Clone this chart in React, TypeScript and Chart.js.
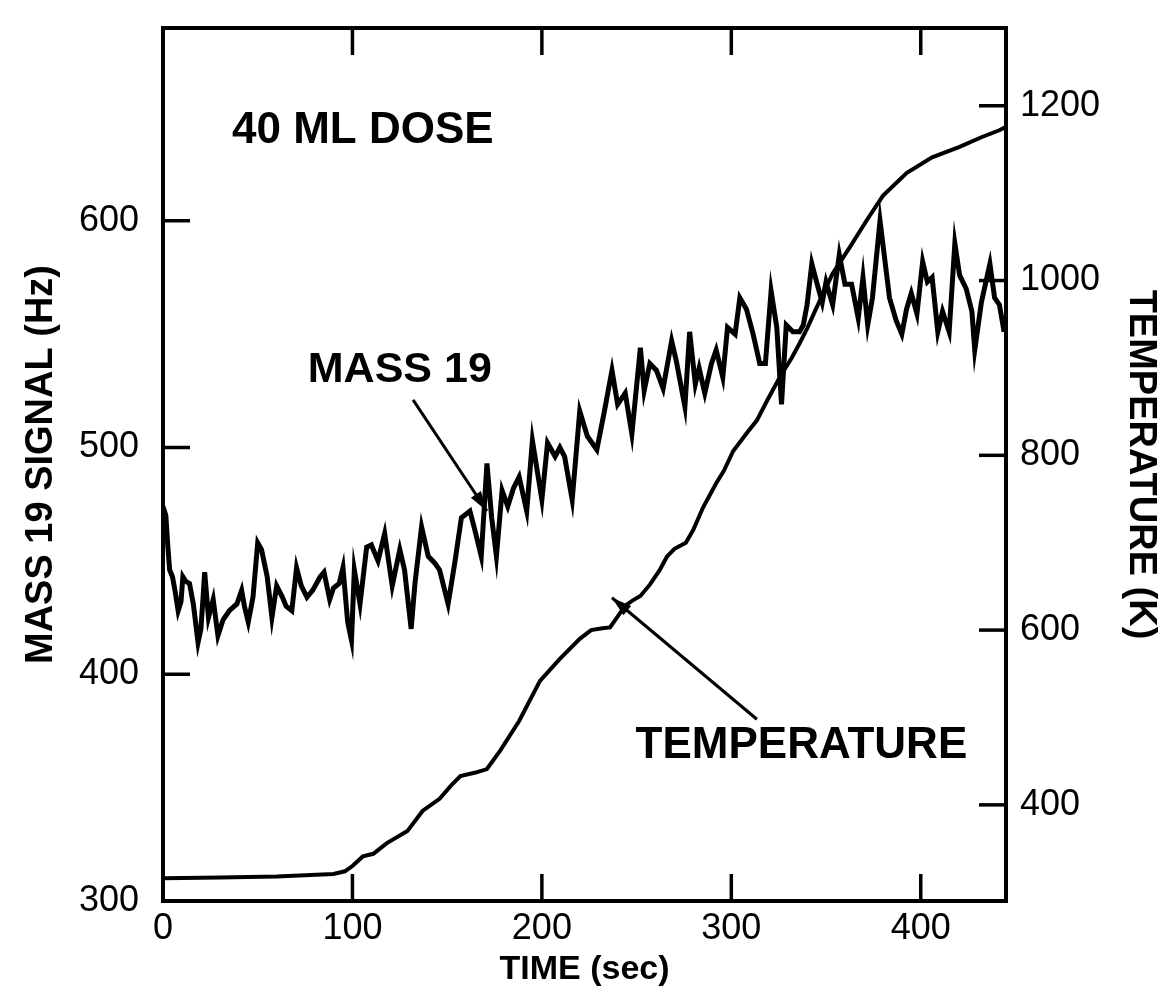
import React, { useEffect, useRef } from "react";
import { Chart, registerables } from "chart.js";

Chart.register(...registerables);

// ---- data ----
const timeMass = [
  0, 1.5, 2.5, 3.5, 5, 6.5, 8, 9.5, 10.5, 12, 14, 16, 18.5, 20, 21, 22, 24, 26.5, 29, 31.7,
  35, 39, 41.5, 43, 45, 47.5, 50, 52, 55, 57.5, 60, 63, 65, 68, 70.5, 73, 76, 79, 83, 85,
  88, 90, 93, 95, 97.5, 99.5, 101, 104, 107.5, 110, 113.5, 117, 121, 125, 127.5, 131, 133, 136.5, 140, 143.5,
  146, 150.5, 154, 157.5, 162, 164.5, 168, 171, 173.5, 176, 179, 182, 185, 188, 192, 195, 200, 203, 207, 209.5,
  212, 216, 220, 224, 229, 233, 237, 240, 244, 247.5, 252, 254, 257, 260.5, 264, 268.5, 271, 275.5, 278, 281,
  283, 286, 289.5, 292, 295.5, 298, 302, 304.5, 308, 311.5, 315, 318, 321, 324, 326.5, 329, 332.5, 336, 338, 340,
  342.5, 345, 348, 350, 353.5, 357, 360, 363.5, 367, 369.5, 372, 374.5, 378.5, 381, 383.5, 387, 390, 392.5, 395, 398,
  401, 403.5, 406, 409, 411.5, 415, 418, 420.5, 424, 427, 428.5, 432, 436.5, 439, 441.5, 444,
];
const mass19 = [
  474, 470, 457, 446, 443, 436, 428, 432, 443, 441, 440, 431, 414, 420, 432, 445, 425, 433, 417, 424,
  428, 431, 437, 430, 423, 434, 458, 455, 443, 425, 439, 434, 430, 428, 447, 439, 434, 437, 443, 445,
  433, 438, 440, 447, 423, 415, 446, 431, 456, 457, 450, 462, 439, 455, 446, 420, 440, 465, 452, 449,
  446, 431, 449, 469, 472, 464, 452, 493, 469, 452, 481, 474, 482, 487, 472, 503, 477, 502, 496, 500,
  496, 477, 516, 505, 499, 516, 534, 519, 524, 506, 544, 525, 537, 534, 526, 547, 538, 518, 551, 528,
  535, 524, 537, 543, 531, 553, 550, 566, 561, 550, 537, 537, 569, 553, 519, 554, 551, 551, 554, 563,
  581, 573, 564, 573, 563, 585, 572, 572, 557, 575, 554, 566, 600, 583, 566, 556, 550, 561, 568, 559,
  582, 573, 575, 551, 560, 551, 590, 576, 570, 560, 543, 564, 581, 566, 563, 551,
];

const timeTemp = [
  0, 30, 60, 90, 96, 100, 105.5, 111, 118, 129, 137, 146, 152, 157, 165, 171, 178, 188, 199, 209.5,
  220, 226, 232, 236, 244, 248, 252, 257, 262, 266, 270, 276, 280, 285, 292, 296, 301, 308, 313.5, 319,
  325.5, 332, 336, 340, 345, 353.5, 362.5, 371.5, 380, 392.5, 406, 420.5, 432, 441.5, 445,
];
const temperature = [
  316, 317, 318, 321, 324, 330, 341, 344, 356, 370, 393, 407, 422, 433, 437, 441, 462, 496, 542, 567,
  590, 600, 602, 603, 628, 634, 639, 652, 668, 684, 693, 700, 715, 740, 768, 782, 805, 825, 840, 863,
  889, 912, 928, 945, 969, 1008, 1038, 1069, 1097, 1123, 1141, 1153, 1164, 1172, 1176,
];

const xTicks = [0, 100, 200, 300, 400];
const massTicks = [300, 400, 500, 600];
const tempTicks = [400, 600, 800, 1000, 1200];

// annotations (text, x in sec, y in axis units)
const noteTexts = ["40 ML DOSE", "MASS 19", "TEMPERATURE"];
const noteX = [105.5, 125, 337];
const noteY = [639.5, 534, 468];
const noteAxis = ["y", "y", "y1"];
// arrows: [x0, y0, x1(head), y1(head)]
const arrowMass = [132, 521, 171, 472];
const arrowTemp = [313.5, 498, 237, 637];

const FONT = "'Liberation Sans', Arial, Helvetica, sans-serif";

const framePlugin = {
  id: "frameTicksNotes",
  afterDatasetsDraw(chart: any) {
    const { ctx, chartArea, scales } = chart;
    const { left, right, top, bottom } = chartArea;
    ctx.save();
    ctx.strokeStyle = "#000";
    ctx.fillStyle = "#000";
    ctx.lineCap = "butt";
    // frame
    ctx.lineWidth = 4;
    ctx.strokeRect(left, top, right - left, bottom - top);
    // inward ticks
    const L = 27;
    ctx.lineWidth = 3.5;
    const line = (x0: number, y0: number, x1: number, y1: number) => {
      ctx.beginPath();
      ctx.moveTo(x0, y0);
      ctx.lineTo(x1, y1);
      ctx.stroke();
    };
    xTicks.forEach((v) => {
      const x = scales.x.getPixelForValue(v);
      line(x, bottom, x, bottom - L);
      line(x, top, x, top + L);
    });
    massTicks.forEach((v) => {
      const y = scales.y.getPixelForValue(v);
      line(left, y, left + L, y);
    });
    tempTicks.forEach((v) => {
      const y = scales.y1.getPixelForValue(v);
      line(right, y, right - L, y);
    });
    // texts
    ctx.textAlign = "center";
    ctx.textBaseline = "middle";
    const sizes = [44, 43, 44];
    noteTexts.forEach((t, i) => {
      ctx.font = `bold ${sizes[i]}px ${FONT}`;
      const x = scales.x.getPixelForValue(noteX[i]);
      const y = scales[noteAxis[i]].getPixelForValue(noteY[i]);
      ctx.fillText(t, x, y);
    });
    // arrows
    const arrow = (a: number[], axis: string) => {
      const x0 = scales.x.getPixelForValue(a[0]);
      const y0 = scales[axis].getPixelForValue(a[1]);
      const x1 = scales.x.getPixelForValue(a[2]);
      const y1 = scales[axis].getPixelForValue(a[3]);
      ctx.lineWidth = 3;
      line(x0, y0, x1, y1);
      const ang = Math.atan2(y1 - y0, x1 - x0);
      const hl = 20, hw = 6;
      ctx.beginPath();
      ctx.moveTo(x1, y1);
      ctx.lineTo(x1 - hl * Math.cos(ang) + hw * Math.sin(ang), y1 - hl * Math.sin(ang) - hw * Math.cos(ang));
      ctx.lineTo(x1 - hl * Math.cos(ang) - hw * Math.sin(ang), y1 - hl * Math.sin(ang) + hw * Math.cos(ang));
      ctx.closePath();
      ctx.fill();
    };
    arrow(arrowMass, "y");
    arrow(arrowTemp, "y1");
    ctx.restore();
  },
};

const plainLabel = (v: any) => String(v);

export default function App() {
  const ref = useRef<HTMLCanvasElement | null>(null);
  useEffect(() => {
    if (!ref.current) return;
    const chart = new Chart(ref.current, {
      type: "line",
      data: {
        datasets: [
          {
            label: "MASS 19",
            data: timeMass.map((t, i) => ({ x: t, y: mass19[i] })),
            yAxisID: "y",
            borderColor: "#000",
            borderWidth: 5,
            pointRadius: 0,
            tension: 0,
            fill: false,
          },
          {
            label: "TEMPERATURE",
            data: timeTemp.map((t, i) => ({ x: t, y: temperature[i] })),
            yAxisID: "y1",
            borderColor: "#000",
            borderWidth: 4,
            pointRadius: 0,
            tension: 0,
            fill: false,
          },
        ],
      },
      options: {
        responsive: false,
        animation: false,
        layout: { padding: { top: 28, left: 0, right: 0, bottom: 0 } },
        plugins: { legend: { display: false }, tooltip: { enabled: false } },
        scales: {
          x: {
            type: "linear",
            min: 0,
            max: 445,
            afterBuildTicks: (s: any) => {
              s.ticks = xTicks.map((v) => ({ value: v }));
            },
            afterFit: (s: any) => {
              s.height = 95;
              s.paddingLeft = 0;
              s.paddingRight = 0;
            },
            grid: { display: false, drawTicks: false },
            border: { display: false },
            ticks: { color: "#000", font: { family: FONT, size: 36 }, padding: 6, maxRotation: 0, callback: plainLabel },
            title: {
              display: true,
              text: "TIME (sec)",
              color: "#000",
              font: { family: FONT, size: 34, weight: "bold" },
              padding: { top: 0, bottom: 6 },
            },
          },
          y: {
            type: "linear",
            position: "left",
            min: 300,
            max: 685,
            afterBuildTicks: (s: any) => {
              s.ticks = massTicks.map((v) => ({ value: v }));
            },
            afterFit: (s: any) => {
              s.width = 163;
              s.paddingTop = 0;
              s.paddingBottom = 0;
            },
            grid: { display: false, drawTicks: false },
            border: { display: false },
            ticks: { color: "#000", font: { family: FONT, size: 36 }, padding: 24, callback: plainLabel },
            title: {
              display: true,
              text: "MASS 19 SIGNAL (Hz)",
              color: "#000",
              font: { family: FONT, size: 38, weight: "bold" },
              padding: { top: 19, bottom: 0 },
            },
          },
          y1: {
            type: "linear",
            position: "right",
            min: 290,
            max: 1289,
            afterBuildTicks: (s: any) => {
              s.ticks = tempTicks.map((v) => ({ value: v }));
            },
            afterFit: (s: any) => {
              s.width = 160;
              s.paddingTop = 0;
              s.paddingBottom = 0;
            },
            grid: { display: false, drawTicks: false },
            border: { display: false },
            ticks: { color: "#000", font: { family: FONT, size: 36 }, padding: 14, callback: plainLabel },
            title: {
              display: true,
              text: "TEMPERATURE (K)",
              color: "#000",
              font: { family: FONT, size: 38, weight: "bold" },
              padding: { top: 3, bottom: 0 },
            },
          },
        },
      },
      plugins: [framePlugin],
    } as any);
    return () => chart.destroy();
  }, []);
  return (
    <div style={{ position: "absolute", left: 0, top: 0, width: 1166, height: 996, background: "#fff" }}>
      <canvas ref={ref} width={1166} height={996} style={{ display: "block" }} />
    </div>
  );
}
